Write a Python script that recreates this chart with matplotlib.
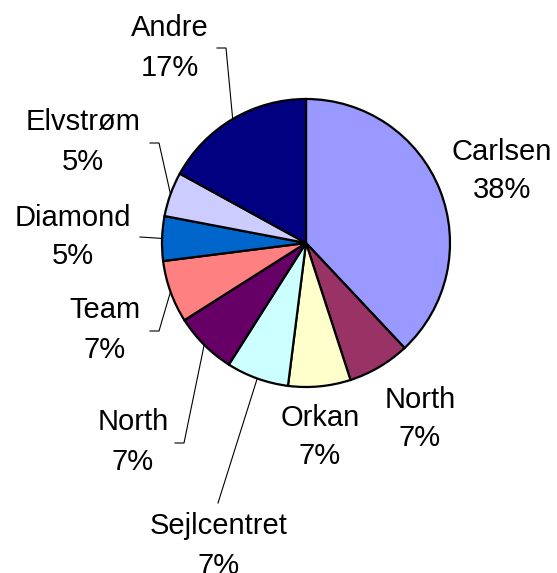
import numpy as np
import matplotlib
matplotlib.use("Agg")
import matplotlib.pyplot as plt

plt.rcParams['font.family'] = ['Liberation Sans', 'DejaVu Sans']

W, H = 557, 573

labels = ["Carlsen", "North", "Orkan", "Sejlcentret", "North", "Team", "Diamond", "Elvstrøm", "Andre"]
values = [38, 7, 7, 7, 7, 7, 5, 5, 17]
colors = ["#9999FF", "#993366", "#FFFFCC", "#CCFFFF", "#660066", "#FF8080", "#0066CC", "#CCCCFF", "#000080"]

# label block centres in pixels (x, y from top)
label_pos = [(502, 171), (420, 419), (320, 437), (219, 546), (133, 442),
             (105, 330), (73, 237), (83, 142), (170, 48)]
# leader lines: start near text and elbow, None = no leader
leaders = [None, None, None, ((218, 503), (218, 503)), ((175, 443), (184, 443)),
           ((150, 331), (159, 331)), ((140, 237), (156, 238)), ((150, 143), (159, 143)),
           ((217, 48), (226, 48))]

cx, cy, r = 306, H - 243, 144

fig = plt.figure(figsize=(W / 100, H / 100), dpi=100)
ax = fig.add_axes([0, 0, 1, 1])

wedges, _ = ax.pie(values, colors=colors, startangle=90, counterclock=False,
                   center=(cx, cy), radius=r,
                   wedgeprops=dict(edgecolor="black", linewidth=1.6))
ax.set_xlim(0, W)
ax.set_ylim(0, H)
ax.set_aspect("equal")
ax.axis("off")

total = sum(values)
for w, lab, v, pos, ld in zip(wedges, labels, values, label_pos, leaders):
    pct = round(100 * v / total)
    ax.text(pos[0], H - pos[1], f"{lab}\n{pct}%", ha="center", va="center",
            fontsize=21, linespacing=1.5)
    if ld is not None:
        mid = np.deg2rad((w.theta1 + w.theta2) / 2)
        px, py = cx + r * np.cos(mid), cy + r * np.sin(mid)
        (x0, y0), (x1, y1) = ld
        ax.plot([x0, x1, px], [H - y0, H - y1, py], color="black", lw=0.8, zorder=0)

fig.savefig("out.png", dpi=100)
